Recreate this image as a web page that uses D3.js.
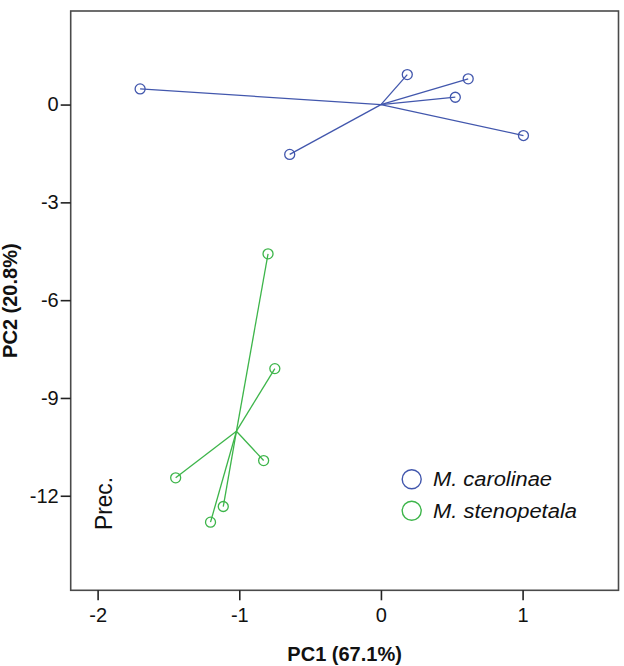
<!DOCTYPE html>
<html>
<head>
<meta charset="utf-8">
<script src="https://cdn.jsdelivr.net/npm/d3@7"></script>
<style>
  html, body { margin: 0; padding: 0; background: #fff; }
  svg { display: block; font-family: "Liberation Sans", Arial, sans-serif; }
</style>
</head>
<body>
<svg id="chart" width="624" height="666"></svg>
<script>
// ---- data ----
const groups = ["M. carolinae", "M. stenopetala"];
const groupColors = ["#4257ad", "#3db54a"];
const carolinaeX = [-1.70, 0.186, 0.616, 0.525, 1.006, -0.644];
const carolinaeY = [0.48, 0.92, 0.79, 0.225, -0.95, -1.53];
const stenopetalaX = [-0.797, -0.749, -0.828, -1.449, -1.113, -1.203];
const stenopetalaY = [-4.58, -8.10, -10.92, -11.45, -12.33, -12.81];
const centroidX = [0.0, -1.02];
const centroidY = [0.0, -10.02];
const xTicks = [-2, -1, 0, 1];
const yTicks = [0, -3, -6, -9, -12];
const xTitle = "PC1 (67.1%)";
const yTitle = "PC2 (20.8%)";
const annotation = "Prec.";

const seriesX = [carolinaeX, stenopetalaX];
const seriesY = [carolinaeY, stenopetalaY];

// ---- layout ----
const svg = d3.select("#chart");
const mLeft = 70.7, mRight = 618.5, mTop = 11, mBottom = 590.3;

const x = d3.scaleLinear().domain([-2.19, 1.677]).range([mLeft, mRight]);
const y = d3.scaleLinear().domain([2.87, -14.9]).range([mTop, mBottom]);
const fmt = d => String(d); // plain hyphen-minus like the reference

// frame
svg.append("rect")
  .attr("x", mLeft).attr("y", mTop)
  .attr("width", mRight - mLeft).attr("height", mBottom - mTop)
  .attr("fill", "none").attr("stroke", "#4a4a4a").attr("stroke-width", 1.6);

// axes
const xAxis = d3.axisBottom(x).tickValues(xTicks).tickFormat(fmt)
  .tickSize(10).tickSizeOuter(0).tickPadding(8);
const gx = svg.append("g").attr("transform", `translate(0,${mBottom})`).call(xAxis);
gx.select(".domain").remove();
gx.selectAll(".tick line").attr("stroke", "#222").attr("stroke-width", 1.6);
gx.selectAll(".tick text").attr("fill", "#111").style("font-size", "20px")
  .attr("font-family", "Liberation Sans, Arial, sans-serif");

const yAxis = d3.axisLeft(y).tickValues(yTicks).tickFormat(fmt)
  .tickSize(10).tickSizeOuter(0).tickPadding(2);
const gy = svg.append("g").attr("transform", `translate(${mLeft},0)`).call(yAxis);
gy.select(".domain").remove();
gy.selectAll(".tick line").attr("stroke", "#222").attr("stroke-width", 1.6);
gy.selectAll(".tick text").attr("fill", "#111").style("font-size", "20px")
  .attr("font-family", "Liberation Sans, Arial, sans-serif");

// axis titles
svg.append("text")
  .attr("x", (mLeft + mRight) / 2).attr("y", 661)
  .attr("text-anchor", "middle")
  .style("font-size", "20px").style("font-weight", "bold").attr("fill", "#111")
  .text(xTitle);
svg.append("text")
  .attr("transform", `translate(17,${(mTop + mBottom) / 2}) rotate(-90)`)
  .attr("text-anchor", "middle")
  .style("font-size", "20px").style("font-weight", "bold").attr("fill", "#111")
  .text(yTitle);

// annotation
svg.append("text")
  .attr("transform", `translate(112,503.5) rotate(-90)`)
  .attr("text-anchor", "middle")
  .style("font-size", "24px").attr("fill", "#111")
  .attr("textLength", 53).attr("lengthAdjust", "spacingAndGlyphs")
  .text(annotation);

// spokes and points
groups.forEach((g, i) => {
  const col = groupColors[i];
  const cx = x(centroidX[i]), cy = y(centroidY[i]);
  const pts = seriesX[i].map((v, j) => [v, seriesY[i][j]]);
  const gg = svg.append("g");
  gg.selectAll("line").data(pts).join("line")
    .attr("x1", cx).attr("y1", cy)
    .attr("x2", d => x(d[0])).attr("y2", d => y(d[1]))
    .attr("stroke", col).attr("stroke-width", 1.3);
  gg.selectAll("circle").data(pts).join("circle")
    .attr("cx", d => x(d[0])).attr("cy", d => y(d[1]))
    .attr("r", 5)
    .attr("fill", "none").attr("stroke", col).attr("stroke-width", 1.3);
});

// legend
const legendLengths = [119, 144];
const leg = svg.append("g");
groups.forEach((g, i) => {
  const ly = 479.3 + i * 31.5;
  leg.append("circle").attr("cx", 411.7).attr("cy", ly).attr("r", 9.5)
    .attr("fill", "none").attr("stroke", groupColors[i]).attr("stroke-width", 1.4);
  leg.append("text").attr("x", 433).attr("y", ly + 7)
    .style("font-size", "20px").style("font-style", "italic").attr("fill", "#111")
    .attr("textLength", legendLengths[i]).attr("lengthAdjust", "spacingAndGlyphs")
    .text(g);
});
</script>
</body>
</html>
